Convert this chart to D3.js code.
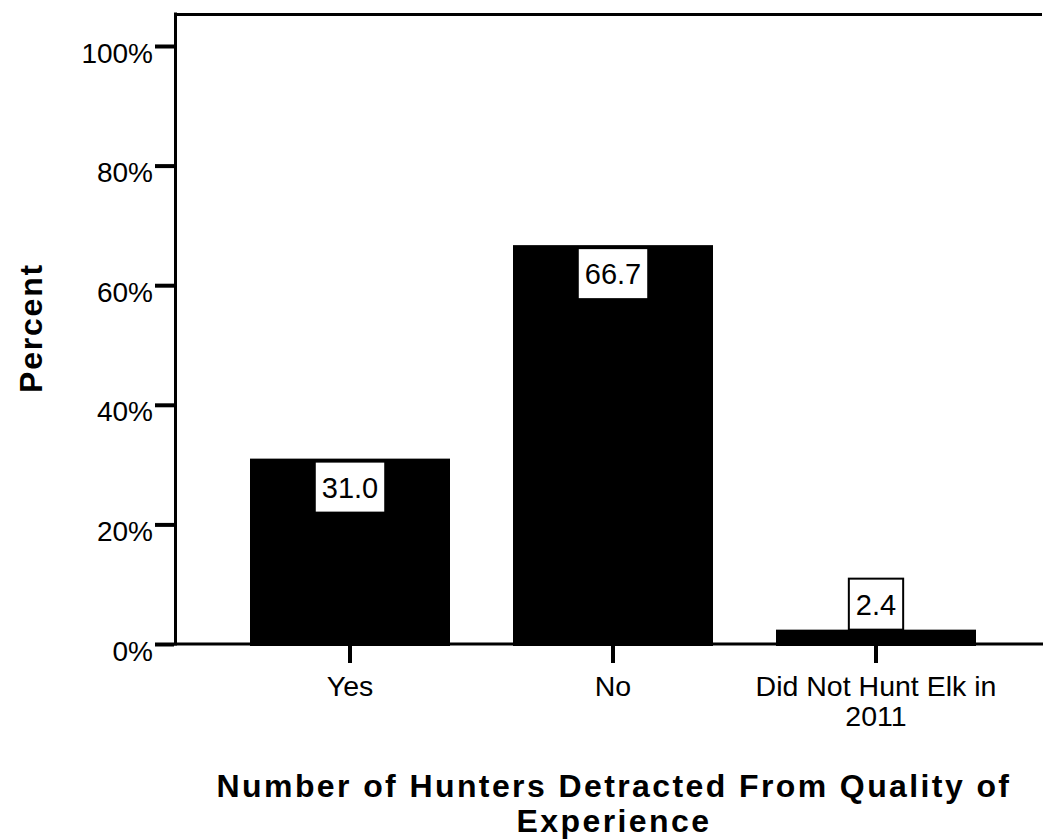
<!DOCTYPE html>
<html>
<head>
<meta charset="utf-8">
<script src="https://cdn.jsdelivr.net/npm/d3@7"></script>
<style>
  html, body { margin: 0; padding: 0; background: #fff; }
  svg { display: block; font-family: "Liberation Sans", Arial, sans-serif; }
</style>
</head>
<body>
<svg id="chart" width="1043" height="840"></svg>
<script>
// ---- data ----
const categories = ["Yes", "No", "Did Not Hunt Elk in 2011"];
const percents = [31.0, 66.7, 2.4];
const valueLabels = ["31.0", "66.7", "2.4"];
const yTicks = [0, 20, 40, 60, 80, 100];
const xTitle = ["Number of Hunters Detracted From Quality of", "Experience"];
const yTitle = "Percent";

const svg = d3.select("#chart");
const plot = { left: 174, right: 1052, top: 14, bottom: 644 };

const y = d3.scaleLinear().domain([0, 100]).range([644, 46]);
const x = d3.scaleBand().domain(categories)
  .range([plot.left, plot.right])
  .paddingInner(63 / 263).paddingOuter(76 / 263);

// bars
svg.append("g").selectAll("rect").data(percents).join("rect")
  .attr("x", (d, i) => x(categories[i]))
  .attr("width", x.bandwidth())
  .attr("y", d => y(d))
  .attr("height", d => y(0) + 2 - y(d))
  .attr("fill", "#000");

// frame lines (left and top)
svg.append("line").attr("x1", plot.left + 1.5).attr("x2", plot.left + 1.5)
  .attr("y1", plot.top - 1.5).attr("y2", y(0) + 1.5)
  .attr("stroke", "#000").attr("stroke-width", 3);
svg.append("line").attr("x1", plot.left).attr("x2", 1042)
  .attr("y1", plot.top + 0.5).attr("y2", plot.top + 0.5)
  .attr("stroke", "#000").attr("stroke-width", 3);
// x axis baseline
svg.append("line").attr("x1", plot.left).attr("x2", 1043)
  .attr("y1", y(0)).attr("y2", y(0))
  .attr("stroke", "#000").attr("stroke-width", 3);

// y axis
const yAxis = svg.append("g")
  .attr("transform", `translate(${plot.left},0)`)
  .call(d3.axisLeft(y).tickValues(yTicks).tickFormat(d => d + "%").tickSize(19).tickSizeOuter(0).tickPadding(2));
yAxis.select(".domain").remove();
yAxis.selectAll(".tick line").attr("stroke", "#000").attr("stroke-width", 4);
yAxis.selectAll(".tick text")
  .attr("font-family", "Liberation Sans, Arial, sans-serif")
  .attr("font-size", 28).attr("fill", "#000")
  .attr("dy", null).attr("y", 16);

// x axis
const xAxis = svg.append("g")
  .attr("transform", `translate(0,${y(0) + 2})`)
  .call(d3.axisBottom(x).tickSize(17).tickSizeOuter(0).tickPadding(0));
xAxis.select(".domain").remove();
xAxis.selectAll(".tick line").attr("stroke", "#000").attr("stroke-width", 4);
xAxis.selectAll(".tick text").remove();

// category labels with wrapping
function wrapLines(text, maxW, fontSize) {
  const tmp = svg.append("text").attr("font-size", fontSize);
  const words = text.split(" ");
  const lines = [];
  let cur = [];
  words.forEach(w => {
    const test = cur.concat([w]).join(" ");
    tmp.text(test);
    if (tmp.node().getComputedTextLength() > maxW && cur.length) {
      lines.push(cur.join(" "));
      cur = [w];
    } else cur.push(w);
  });
  if (cur.length) lines.push(cur.join(" "));
  tmp.remove();
  return lines;
}
categories.forEach(c => {
  const lines = wrapLines(c, 255, 28.5);
  const t = svg.append("text")
    .attr("text-anchor", "middle")
    .attr("font-size", 28.5)
    .attr("fill", "#000");
  lines.forEach((ln, k) => {
    t.append("tspan")
      .attr("x", x(c) + x.bandwidth() / 2)
      .attr("y", 696 + k * 30)
      .text(ln);
  });
});

// value labels in boxes
percents.forEach((v, i) => {
  const cx = x(categories[i]) + x.bandwidth() / 2;
  const g = svg.append("g");
  const rect = g.append("rect");
  const t = g.append("text")
    .attr("text-anchor", "middle")
    .attr("font-size", 29)
    .attr("fill", "#000")
    .text(valueLabels[i]);
  const w = t.node().getComputedTextLength() + 14;
  const h = 51;
  const barH = y(0) - y(v);
  let top;
  if (barH > h + 6) top = y(v) + 3;
  else top = y(v) - h;
  rect.attr("x", cx - w / 2).attr("y", top).attr("width", w).attr("height", h)
    .attr("fill", "#fff").attr("stroke", "#000").attr("stroke-width", 2);
  t.attr("x", cx).attr("y", top + h / 2 + 10.5);
});

// x title
const xt = svg.append("text")
  .attr("text-anchor", "middle")
  .attr("font-size", 32)
  .attr("font-weight", "bold")
  .attr("letter-spacing", 2.4)
  .attr("fill", "#000");
xTitle.forEach((ln, k) => {
  xt.append("tspan").attr("x", 614).attr("y", 797 + k * 35).text(ln);
});

// y title
svg.append("text")
  .attr("transform", "translate(42,328) rotate(-90)")
  .attr("text-anchor", "middle")
  .attr("font-size", 32)
  .attr("font-weight", "bold")
  .attr("letter-spacing", 1.8)
  .attr("fill", "#000")
  .text(yTitle);
</script>
</body>
</html>
